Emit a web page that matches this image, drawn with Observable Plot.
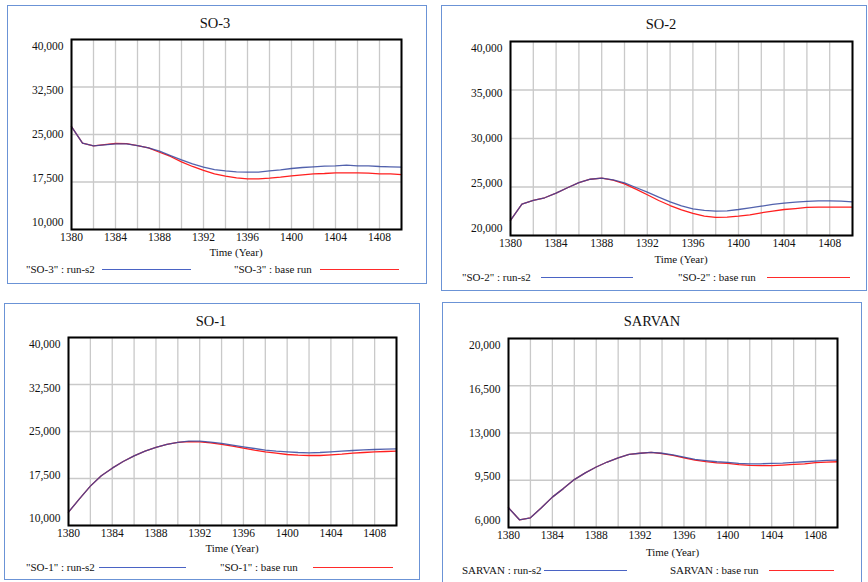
<!DOCTYPE html>
<html><head><meta charset="utf-8">
<script src="https://cdn.jsdelivr.net/npm/d3@7"></script>
<script src="https://cdn.jsdelivr.net/npm/@observablehq/plot@0.6"></script>
<style>
body{margin:0;background:#fff;width:868px;height:582px;overflow:hidden;position:relative;font-family:"Liberation Serif","DejaVu Serif",serif;}
.box{position:absolute;border:1.5px solid #6b93d6;box-sizing:border-box;}
.t{position:absolute;white-space:nowrap;color:#111;line-height:1;font-family:"Liberation Serif","DejaVu Serif",serif;}
.c{transform:translate(-50%,-50%);}
.l{transform:translate(0,-50%);}
.leg{position:absolute;height:0;border-top:1.4px solid;}
svg{position:absolute;overflow:visible;}
svg text{font-family:"Liberation Serif","DejaVu Serif",serif;}
</style></head><body>
<script>
// ---- data ----
const years = [1380,1381,1382,1383,1384,1385,1386,1387,1388,1389,1390,1391,1392,1393,1394,1395,1396,1397,1398,1399,1400,1401,1402,1403,1404,1405,1406,1407,1408,1409,1410];
const gridYears = [1380,1382,1384,1386,1388,1390,1392,1394,1396,1398,1400,1402,1404,1406,1408,1410];
const xTickLabels = [1380,1384,1388,1392,1396,1400,1404,1408];

const so3Run  = [26260,23630,23215,23370,23530,23530,23260,22900,22360,21680,21000,20370,19840,19470,19270,19110,19050,19050,19270,19420,19630,19790,19900,20000,20050,20150,20050,20050,19950,19900,19840];
const so3Base = [26260,23630,23215,23400,23580,23560,23260,22880,22200,21530,20690,19950,19320,18790,18420,18160,18000,18000,18100,18260,18470,18630,18790,18840,18950,18950,18950,18900,18790,18790,18680];
const so3Ticks = [40000,32500,25000,17500,10000];

const so2Run  = [21550,23230,23610,23890,24360,24920,25460,25800,25910,25740,25430,24950,24470,23950,23470,23060,22750,22580,22510,22540,22680,22850,23020,23200,23330,23440,23510,23570,23570,23540,23470];
const so2Base = [21550,23230,23610,23890,24360,24920,25460,25800,25910,25700,25330,24780,24200,23610,23090,22650,22270,21990,21860,21890,21990,22130,22340,22510,22680,22780,22890,22920,22920,22920,22920];
const so2Ticks = [40000,35000,30000,25000,20000];

const so1Run  = [12130,14260,16280,17930,19150,20210,21120,21860,22450,22930,23250,23460,23460,23300,23090,22820,22560,22290,22020,21860,21760,21650,21600,21650,21760,21860,21970,22080,22130,22180,22240];
const so1Base = [12130,14260,16280,17930,19150,20210,21120,21860,22450,22930,23250,23400,23350,23190,22930,22660,22340,22020,21760,21540,21330,21230,21170,21170,21280,21380,21540,21650,21760,21810,21860];
const so1Ticks = [40000,32500,25000,17500,10000];

const sarvanRun  = [7460,6570,6720,7460,8250,8880,9550,10050,10480,10850,11160,11410,11500,11560,11500,11380,11215,11040,10950,10870,10820,10750,10720,10720,10750,10770,10820,10870,10920,10970,10990];
const sarvanBase = [7460,6570,6720,7460,8250,8880,9550,10050,10480,10850,11160,11410,11500,11560,11480,11340,11160,10990,10880,10790,10750,10650,10600,10580,10580,10620,10670,10720,10800,10850,10870];
const sarvanTicks = [20000,16500,13000,9500,6000];

const titles = ["SO-3","SO-2","SO-1","SARVAN"];
const legendRun = ['"SO-3" : run-s2','"SO-2" : run-s2','"SO-1" : run-s2','SARVAN : run-s2'];
const legendBase = ['"SO-3" : base run','"SO-2" : base run','"SO-1" : base run','SARVAN : base run'];
const xAxisLabel = "Time (Year)";

// ---- layout ----
const layouts = [
  {box:{l:7,t:5,r:427,b:284}, frame:{l:71,t:39,r:401,b:229}, title:[215,23], axisY:252, legY:269, leg1:[26,102,191], leg2:[234,320,399]},
  {box:{l:441,t:5,r:867,b:291}, frame:{l:510,t:41,r:852,b:235}, title:[661,24], axisY:259, legY:277, leg1:[462,541,633], leg2:[678,767,850]},
  {box:{l:4,t:303,r:420,b:580}, frame:{l:68,t:337,r:396,b:525}, title:[211,321], axisY:548, legY:567, leg1:[26,99,186], leg2:[220,313,393]},
  {box:{l:442,t:302,r:862,b:592}, frame:{l:508,t:338,r:837,b:527}, title:[652,321], axisY:552, legY:570, leg1:[462,544,627], leg2:[670,769,834]}
];
const series = [[so3Run,so3Base,so3Ticks],[so2Run,so2Base,so2Ticks],[so1Run,so1Base,so1Ticks],[sarvanRun,sarvanBase,sarvanTicks]];

const BLUE = "#34469f", RED = "#ff1f1f", GRID = "#c9c9c9";
const FONT = "'Liberation Serif','DejaVu Serif',serif";
const fmt = d3.format(",");

function addText(txt, x, y, cls, size){
  const d = document.createElement("div");
  d.className = "t " + cls;
  d.style.left = x + "px"; d.style.top = y + "px";
  d.style.fontSize = size + "px";
  d.textContent = txt;
  document.body.appendChild(d);
}
function addLine(x1, x2, y, color){
  const d = document.createElement("div");
  d.className = "leg";
  d.style.left = x1 + "px"; d.style.top = (y) + "px";
  d.style.width = (x2 - x1) + "px";
  d.style.borderTopColor = color;
  document.body.appendChild(d);
}

layouts.forEach((L, k) => {
  const [run, base, ticks] = series[k];
  const b = document.createElement("div");
  b.className = "box";
  b.style.left = L.box.l + "px"; b.style.top = L.box.t + "px";
  b.style.width = (L.box.r - L.box.l) + "px"; b.style.height = (L.box.b - L.box.t) + "px";
  document.body.appendChild(b);

  const ml = 70, mr = 30, mt = 20, mb = 40;
  const fw = L.frame.r - L.frame.l, fh = L.frame.b - L.frame.t;
  const rows = years.map((yr, i) => ({year: yr, run: run[i], base: base[i]}));
  const yLabelMarks = ticks.map((t, i) => Plot.text([t], {
    y: d => d, frameAnchor: "left", textAnchor: "end", dx: -8, dy: 7 - 3.5 * i,
    text: d => fmt(d), fill: "#111", fontSize: 11.5, fontFamily: FONT
  }));
  const svg = Plot.plot({
    width: fw + ml + mr, height: fh + mt + mb,
    marginLeft: ml, marginRight: mr, marginTop: mt, marginBottom: mb,
    x: {domain: [years[0], years[years.length - 1]], axis: null},
    y: {domain: [ticks[ticks.length - 1], ticks[0]], axis: null},
    style: {fontFamily: FONT, background: "transparent"},
    marks: [
      Plot.ruleX(gridYears, {x: d => d, stroke: GRID, strokeWidth: 1.3}),
      Plot.ruleY(ticks, {y: d => d, stroke: GRID, strokeWidth: 1.6}),
      Plot.line(rows, {x: "year", y: "base", stroke: RED, strokeWidth: 1.3}),
      Plot.line(rows, {x: "year", y: "run", stroke: BLUE, strokeWidth: 1.3, strokeOpacity: 0.85}),
      Plot.frame({stroke: "#000", strokeWidth: 2}),
      ...yLabelMarks,
      Plot.text(xTickLabels, {x: d => d, frameAnchor: "bottom", dy: 11, text: d => String(d), fill: "#111", fontSize: 11.5, fontFamily: FONT})
    ]
  });
  svg.style.left = (L.frame.l - ml) + "px";
  svg.style.top = (L.frame.t - mt) + "px";
  document.body.appendChild(svg);

  addText(titles[k], L.title[0], L.title[1], "c", 14.5);
  addText(xAxisLabel, (L.frame.l + L.frame.r) / 2, L.axisY, "c", 11);
  addText(legendRun[k], L.leg1[0], L.legY, "l", 11);
  addLine(L.leg1[1], L.leg1[2], L.legY, "#4a63c4");
  addText(legendBase[k], L.leg2[0], L.legY, "l", 11);
  addLine(L.leg2[1], L.leg2[2], L.legY, "#ff2a2a");
});
</script>
</body></html>
